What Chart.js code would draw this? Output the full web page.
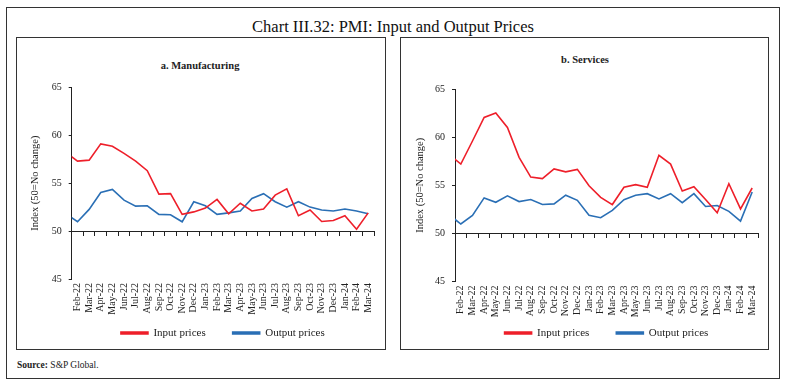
<!DOCTYPE html>
<html>
<head>
<meta charset="utf-8">
<script src="https://cdn.jsdelivr.net/npm/chart.js@4.4.1/dist/chart.umd.min.js"></script>
<style>
  body { margin: 0; background: #fff; font-family: "Liberation Serif", serif; color: #222; }
  #page { position: relative; width: 786px; height: 385px; overflow: hidden; }
  #frame { position: absolute; left: 6px; top: 7px; width: 772px; height: 370px; border: 1px solid #333; }
  .panel { position: absolute; top: 37px; height: 313px; border: 1px solid #333; box-sizing: border-box; }
  #title { position: absolute; left: 0; width: 786px; top: 17px; text-align: center; font-size: 16.5px; line-height: 20px; color: #111; }
  .sub { position: absolute; font-size: 10.5px; font-weight: bold; line-height: 12px; text-align: center; width: 200px; }
  #source { position: absolute; left: 17px; top: 359px; font-size: 9.5px; line-height: 12px; }
  canvas { position: absolute; }
</style>
</head>
<body>
<div id="page">
  <div id="frame"></div>
  <div id="title">Chart III.32: PMI: Input and Output Prices</div>
  <div class="panel" style="left:16px;width:370px;"></div>
  <div class="panel" style="left:400px;width:369px;"></div>
  <div class="sub" style="left:100px;top:60px;">a. Manufacturing</div>
  <div class="sub" style="left:485px;top:54px;">b. Services</div>
  <canvas id="mfg" width="370" height="313" style="left:16px;top:37px;"></canvas>
  <canvas id="svc" width="369" height="313" style="left:400px;top:37px;"></canvas>
  <div id="source"><b>Source:</b> S&amp;P Global.</div>
</div>
<script>
// first month is only there so the line enters from the left edge, it gets clipped
const months = [
  "Jan-22", "Feb-22", "Mar-22", "Apr-22", "May-22", "Jun-22", "Jul-22", "Aug-22", "Sep-22",
  "Oct-22", "Nov-22", "Dec-22", "Jan-23", "Feb-23", "Mar-23", "Apr-23", "May-23", "Jun-23",
  "Jul-23", "Aug-23", "Sep-23", "Oct-23", "Nov-23", "Dec-23", "Jan-24", "Feb-24", "Mar-24"
];

const mfgInput = [58.2, 57.3, 57.4, 59.1, 58.85, 58.1, 57.3, 56.3, 53.85, 53.9, 51.75, 52.0, 52.4, 53.3,
  51.8, 52.9, 52.1, 52.3, 53.75, 54.4, 51.6, 52.2, 51.0, 51.1, 51.6, 50.2, 51.9];
const mfgOutput = [51.8, 50.97, 52.26, 54.03, 54.34, 53.23, 52.6, 52.64, 51.74, 51.7, 50.97, 53.06, 52.64, 51.74,
  51.9, 52.1, 53.4, 53.9, 53.06, 52.5, 53.06, 52.5, 52.2, 52.1, 52.3, 52.1, 51.8];

const svcInput = [58.2, 57.2, 59.6, 62.05, 62.5, 61.0, 57.9, 55.85, 55.7, 56.7, 56.4, 56.65, 54.95, 53.75,
  53.0, 54.8, 55.07, 54.79, 58.12, 57.2, 54.4, 54.86, 53.52, 52.15, 55.17, 52.55, 54.72];
const svcOutput = [51.94, 50.98, 51.88, 53.69, 53.24, 53.9, 53.31, 53.52, 53.0, 53.07, 53.97, 53.44, 51.88, 51.63,
  52.4, 53.5, 53.96, 54.13, 53.58, 54.13, 53.2, 54.13, 52.8, 52.9, 52.3, 51.28, 54.3];

const yTicks = [45, 50, 55, 60, 65];
const seriesNames = ["Input prices", "Output prices"];
const RED = "#ee1f2a";
const BLUE = "#2a6fb5";
const INK = "#222";

Chart.defaults.font.family = '"Liberation Serif", serif';
Chart.defaults.color = INK;

function makeChart(id, input, output, g) {
  const ctx = document.getElementById(id).getContext("2d");
  return new Chart(ctx, {
    type: "line",
    data: {
      labels: months,
      datasets: [
        { label: seriesNames[0], data: input, borderColor: RED, backgroundColor: RED },
        { label: seriesNames[1], data: output, borderColor: BLUE, backgroundColor: BLUE }
      ]
    },
    options: {
      responsive: false,
      animation: false,
      layout: { padding: { left: g.left, top: g.top, right: g.right, bottom: g.bottom } },
      elements: {
        line: { borderWidth: 1.6, tension: 0 },
        point: { radius: 0 }
      },
      datasets: { line: { clip: 0 } },
      plugins: {
        legend: {
          position: "bottom",
          fullSize: false,
          labels: { boxWidth: 27, boxHeight: 2, padding: 27, font: { size: 11 }, color: INK }
        },
        tooltip: { enabled: false }
      },
      scales: {
        // data axis, only used as a spacer above the legend
        x: {
          type: "category",
          min: "Feb-22",
          offset: true,
          border: { display: false },
          grid: { display: false, drawTicks: false },
          ticks: { display: false },
          afterFit: (s) => { s.height = g.xh; }
        },
        // axis line with tick marks crossing at 50
        x2: {
          type: "category",
          min: "Feb-22",
          position: { y: 50 },
          offset: true,
          border: { display: true, color: INK, width: 1 },
          grid: { display: true, offset: true, drawOnChartArea: false, tickLength: 4, color: INK },
          ticks: { display: false }
        },
        // month labels hanging below 45
        x3: {
          type: "category",
          min: "Feb-22",
          position: { y: 45 },
          offset: true,
          border: { display: false },
          grid: { display: false, drawTicks: false },
          ticks: { autoSkip: false, maxRotation: 90, minRotation: 90, padding: 4, font: { size: 10 } }
        },
        y: {
          min: 45,
          max: 65,
          afterBuildTicks: (s) => { s.ticks = yTicks.map(v => ({ value: v })); },
          border: { display: true, color: INK, width: 1 },
          grid: { display: true, drawOnChartArea: false, tickLength: 3, color: INK },
          ticks: { padding: 7, font: { size: 10 } },
          title: { display: true, text: "Index (50=No change)", font: { size: 10.5 }, padding: 0 },
          afterFit: (s) => { s.width = g.yw; }
        }
      }
    }
  });
}

makeChart("mfg", mfgInput, mfgOutput, { left: 13, top: 50.3, right: 12, bottom: 1.5, yw: 42.7, xh: 21.5 });
makeChart("svc", svcInput, svcOutput, { left: 14.4, top: 52, right: 11, bottom: 1.5, yw: 40.6, xh: 18.9 });
</script>
</body>
</html>
